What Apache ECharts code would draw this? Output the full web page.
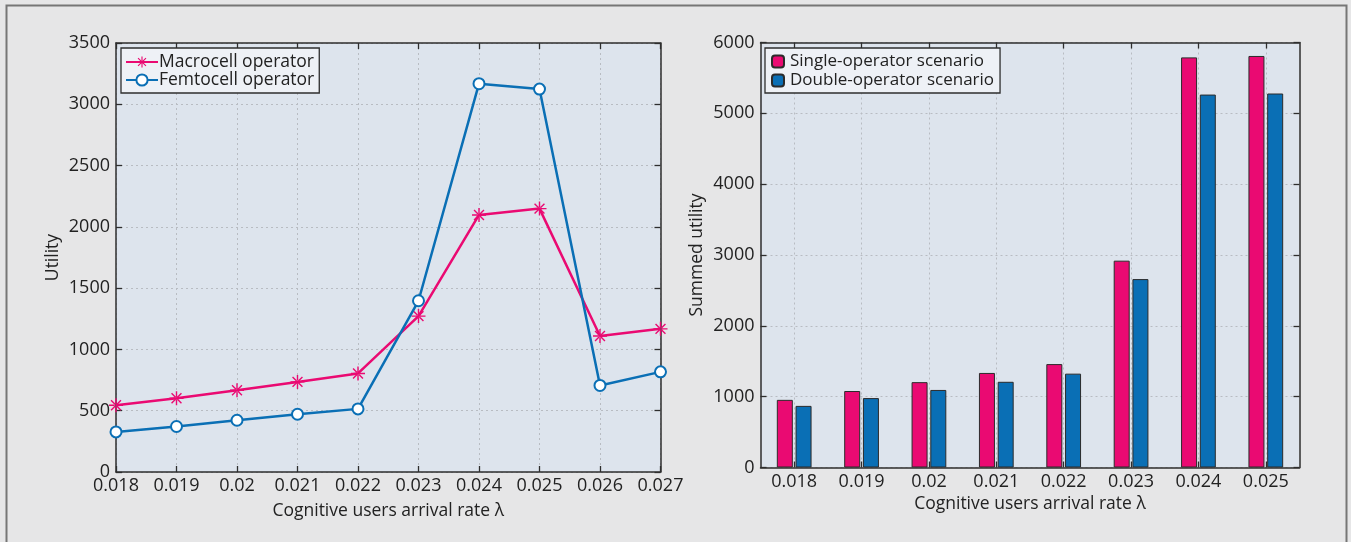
<!DOCTYPE html>
<html>
<head>
<meta charset="utf-8">
<script src="https://cdn.jsdelivr.net/npm/echarts@6/dist/echarts.min.js"></script>
<style>
  html, body { margin: 0; padding: 0; background: #e6e6e7; }
  #chart { width: 1351px; height: 542px; }
</style>
</head>
<body>
<div id="chart"></div>
<script>
// Arrival rates of cognitive users (left panel)
const lambdaLeft = ['0.018', '0.019', '0.02', '0.021', '0.022', '0.023', '0.024', '0.025', '0.026', '0.027'];
// Utility per operator
const macroUtility = [545, 602, 667, 735, 804, 1272, 2097, 2149, 1109, 1168];
const femtoUtility = [327, 371, 422, 471, 515, 1397, 3168, 3124, 706, 817];

// Arrival rates (right panel)
const lambdaRight = ['0.018', '0.019', '0.02', '0.021', '0.022', '0.023', '0.024', '0.025'];
// Summed utility per scenario
const singleSummed = [955, 1080, 1205, 1335, 1460, 2920, 5790, 5810];
const doubleSummed = [870, 980, 1095, 1210, 1325, 2660, 5265, 5280];

const leftTicks = { min: 0, max: 3500, interval: 500 };
const rightTicks = { min: 0, max: 6000, interval: 1000 };

const PINK = '#ea0a72';
const BLUE = '#0a6fb5';
const FONT = '"Open Sans", "Noto Sans", sans-serif';
const AXIS_COLOR = '#2e2e2e';
const GRID_LINE = { show: true, lineStyle: { color: '#b8bcc2', width: 1, type: [2, 3] } };

// eight-armed asterisk marker
const ASTERISK = 'path://M-1,-10L1,-10L1,10L-1,10Z M-10,-1L10,-1L10,1L-10,1Z ' +
  'M6.36,7.78L7.78,6.36L-6.36,-7.78L-7.78,-6.36Z M7.78,-6.36L6.36,-7.78L-7.78,6.36L-6.36,7.78Z';

function boxAxis(extra) {
  return Object.assign({
    axisLine: { show: true, onZero: false, lineStyle: { color: AXIS_COLOR, width: 1.5 } },
    axisTick: { show: true, inside: true, length: 6, lineStyle: { color: AXIS_COLOR, width: 1.3 } },
    axisLabel: { show: false },
    splitLine: { show: false }
  }, extra);
}

const plain = v => String(v);
const labelStyle = { color: '#222', fontFamily: FONT, fontSize: 18 };
const nameStyle = { color: '#222', fontFamily: FONT, fontSize: 17.5 };

const chart = echarts.init(document.getElementById('chart'), null, { renderer: 'canvas' });

chart.setOption({
  backgroundColor: '#e6e6e7',
  animation: false,
  graphic: [{
    type: 'rect',
    shape: { x: 6.5, y: 5.5, width: 1340, height: 600 },
    style: { fill: 'none', stroke: '#767676', lineWidth: 2 },
    silent: true
  }],
  grid: [
    { left: 116, top: 43, width: 544.5, height: 429, show: true, backgroundColor: '#dde4ed', borderWidth: 0 },
    { left: 760.5, top: 42.5, width: 539, height: 425, show: true, backgroundColor: '#dde4ed', borderWidth: 0 }
  ],
  legend: [
    {
      data: ['Macrocell operator', 'Femtocell operator'],
      orient: 'vertical', left: 121, top: 48,
      padding: [5, 5, 4, 4], itemGap: 0, itemWidth: 32, itemHeight: 14,
      backgroundColor: '#eef1f6', borderColor: '#2e2e2e', borderWidth: 1.3, borderRadius: 0,
      textStyle: { color: '#222', fontFamily: FONT, fontSize: 17.5, lineHeight: 18, padding: [0, 0, 0, -4] }
    },
    {
      data: ['Single-operator scenario', 'Double-operator scenario'],
      orient: 'vertical', left: 765, top: 48,
      padding: [4, 6, 3, 6], itemGap: 0, itemWidth: 12, itemHeight: 12,
      backgroundColor: '#eef1f6', borderColor: '#2e2e2e', borderWidth: 1.3, borderRadius: 0,
      textStyle: { color: '#222', fontFamily: FONT, fontSize: 17, lineHeight: 19, padding: [0, 0, 0, 1] }
    }
  ],
  xAxis: [
    boxAxis({
      gridIndex: 0, type: 'category', data: lambdaLeft, boundaryGap: false, position: 'bottom',
      axisLabel: Object.assign({ show: true, margin: 5 }, labelStyle),
      splitLine: GRID_LINE,
      name: 'Cognitive users arrival rate λ', nameLocation: 'middle', nameGap: 30,
      nameTextStyle: nameStyle
    }),
    boxAxis({ gridIndex: 0, type: 'category', data: lambdaLeft, boundaryGap: false, position: 'top' }),
    boxAxis({
      gridIndex: 1, type: 'category', data: lambdaRight, position: 'bottom',
      axisTick: { show: true, inside: true, alignWithLabel: true, length: 6, lineStyle: { color: AXIS_COLOR, width: 1.3 } },
      axisLabel: Object.assign({ show: true, margin: 5 }, labelStyle),
      splitLine: Object.assign({ alignWithLabel: true }, GRID_LINE),
      name: 'Cognitive users arrival rate λ', nameLocation: 'middle', nameGap: 28,
      nameTextStyle: nameStyle
    }),
    boxAxis({
      gridIndex: 1, type: 'category', data: lambdaRight, position: 'top',
      axisTick: { show: true, inside: true, alignWithLabel: true, length: 6, lineStyle: { color: AXIS_COLOR, width: 1.3 } }
    })
  ],
  yAxis: [
    boxAxis(Object.assign({
      gridIndex: 0, type: 'value', position: 'left',
      axisLabel: Object.assign({ show: true, margin: 6, formatter: plain }, labelStyle),
      splitLine: GRID_LINE,
      name: 'Utility', nameLocation: 'middle', nameGap: 54, nameRotate: 90,
      nameTextStyle: nameStyle
    }, leftTicks)),
    boxAxis(Object.assign({ gridIndex: 0, type: 'value', position: 'right' }, leftTicks)),
    boxAxis(Object.assign({
      gridIndex: 1, type: 'value', position: 'left',
      axisLabel: Object.assign({ show: true, margin: 6, formatter: plain }, labelStyle),
      splitLine: GRID_LINE,
      name: 'Summed utility', nameLocation: 'middle', nameGap: 54, nameRotate: 90,
      nameTextStyle: nameStyle
    }, rightTicks)),
    boxAxis(Object.assign({ gridIndex: 1, type: 'value', position: 'right' }, rightTicks))
  ],
  series: [
    {
      name: 'Macrocell operator', type: 'line', xAxisIndex: 0, yAxisIndex: 0,
      data: macroUtility, symbol: ASTERISK, symbolSize: 14,
      lineStyle: { color: PINK, width: 2.5 }, itemStyle: { color: PINK }, z: 3
    },
    {
      name: 'Femtocell operator', type: 'line', xAxisIndex: 0, yAxisIndex: 0,
      data: femtoUtility, symbol: 'emptyCircle', symbolSize: 11,
      lineStyle: { color: BLUE, width: 2.5 }, itemStyle: { color: BLUE, borderWidth: 1.8 }, z: 4
    },
    {
      name: 'Single-operator scenario', type: 'bar', xAxisIndex: 2, yAxisIndex: 2,
      data: singleSummed, barWidth: 16, barGap: '17%',
      itemStyle: { color: PINK, borderColor: '#2b2b2b', borderWidth: 1 }
    },
    {
      name: 'Double-operator scenario', type: 'bar', xAxisIndex: 2, yAxisIndex: 2,
      data: doubleSummed, barWidth: 16, barGap: '17%',
      itemStyle: { color: BLUE, borderColor: '#2b2b2b', borderWidth: 1 }
    }
  ]
});
</script>
</body>
</html>
